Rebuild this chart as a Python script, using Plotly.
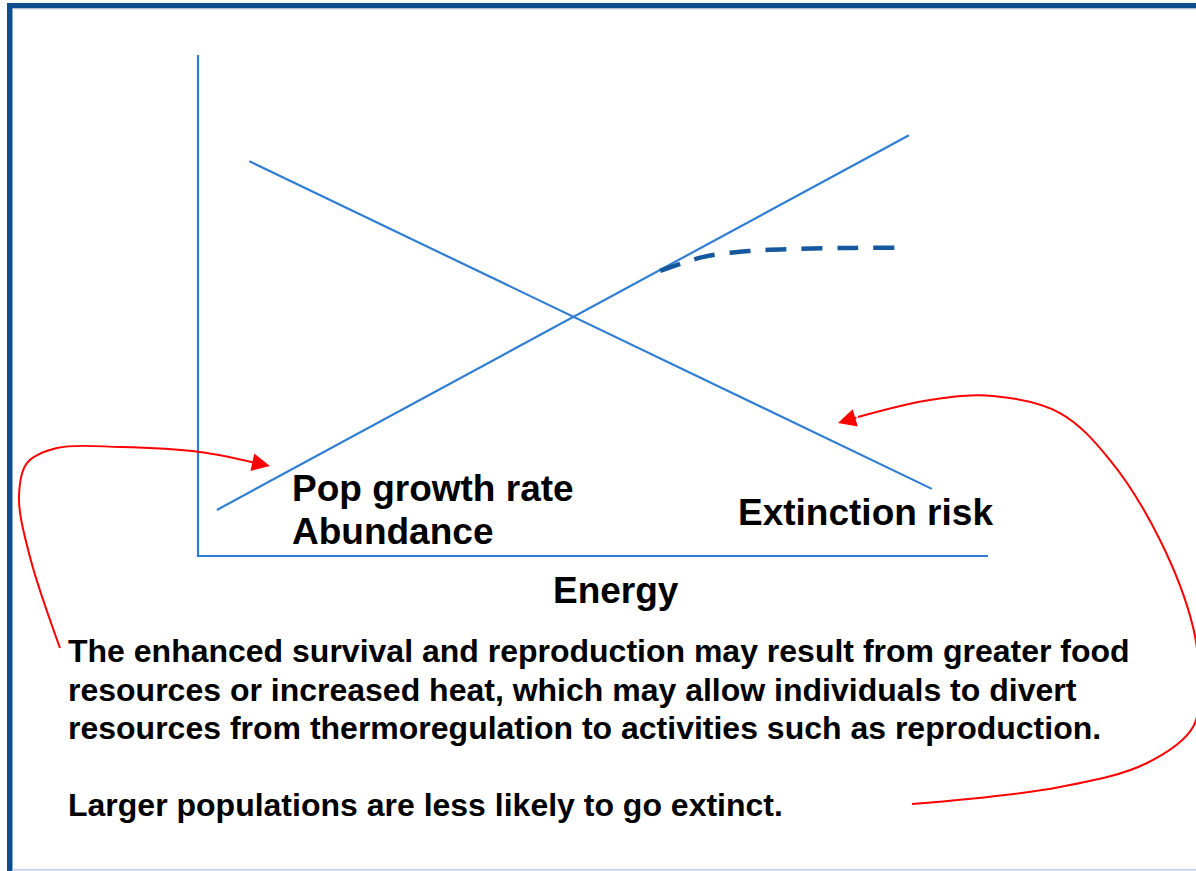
import plotly.graph_objects as go

# ---- data (conceptual diagram, Energy on x, response on y; axis 0..10) ----
axis_x = [0, 0, 10]
axis_y = [10, 0, 0]

growth_x = [0.24, 9.0]          # Pop growth rate / Abundance (rising)
growth_y = [0.92, 8.40]

extinct_x = [0.65, 9.29]        # Extinction risk (falling)
extinct_y = [7.88, 1.34]

sat_x = [5.85, 6.4, 7.0, 7.6, 8.3, 9.0]   # saturating (dashed) abundance
sat_y = [5.69, 5.97, 6.09, 6.13, 6.15, 6.15]

left_arrow_x = [-1.747, -2.127, -2.266, -2.165, -1.785, -0.987, 0.025, 0.734]
left_arrow_y = [-1.836, -0.020, 1.178, 1.856, 2.156, 2.176, 2.076, 1.856]

right_arrow_x = [8.354, 9.266, 10.063, 10.911, 11.544, 12.177, 12.595, 12.671, 12.595,
                 12.013, 10.911, 9.038]
right_arrow_y = [2.774, 3.114, 3.194, 2.854, 1.916, 0.319, -1.417, -2.475, -3.413,
                 -4.132, -4.611, -4.950]

label_growth = ["Pop growth rate", "Abundance"]
label_extinct = "Extinction risk"
label_x = "Energy"
body_lines = [
    "The enhanced survival and reproduction may result from greater food",
    "resources or increased heat, which may allow individuals to divert",
    "resources from thermoregulation to activities such as reproduction.",
    "Larger populations are less likely to go extinct.",
]

W, H = 1196, 871
X0, XS = 198, 79.0     # pixel origin / pixels per unit
Y0, YS = 556, 50.1
xr = [-X0 / XS, (W - X0) / XS]
yr = [(Y0 - H) / YS, Y0 / YS]

BLUE = "#2F7ED3"
DARK = "#15589C"
RED = "#FF0000"
FONT = "Liberation Sans, Arial, sans-serif"

fig = go.Figure()
fig.add_trace(go.Scatter(x=axis_x, y=axis_y, mode="lines", line=dict(color=BLUE, width=2.2)))
fig.add_trace(go.Scatter(x=growth_x, y=growth_y, mode="lines", line=dict(color=BLUE, width=2.2)))
fig.add_trace(go.Scatter(x=extinct_x, y=extinct_y, mode="lines", line=dict(color=BLUE, width=2.2)))
fig.add_trace(go.Scatter(x=sat_x, y=sat_y, mode="lines",
                         line=dict(color=DARK, width=4.5, dash="21px,15px", shape="spline")))
fig.add_trace(go.Scatter(x=left_arrow_x, y=left_arrow_y, mode="lines",
                         line=dict(color=RED, width=2, shape="spline", smoothing=1.0)))
fig.add_trace(go.Scatter(x=right_arrow_x, y=right_arrow_y, mode="lines",
                         line=dict(color=RED, width=2, shape="spline", smoothing=1.0)))

annotations = []
# arrowheads
annotations.append(dict(x=0.911, y=1.796, ax=left_arrow_x[-1], ay=left_arrow_y[-1],
                        xref="x", yref="y", axref="x", ayref="y",
                        text="", showarrow=True, arrowhead=2, arrowsize=1.8, arrowwidth=2, arrowcolor=RED))
annotations.append(dict(x=8.101, y=2.655, ax=right_arrow_x[0], ay=right_arrow_y[0],
                        xref="x", yref="y", axref="x", ayref="y",
                        text="", showarrow=True, arrowhead=2, arrowsize=1.8, arrowwidth=2, arrowcolor=RED))

big = dict(family=FONT, size=37, color="#000000")
annotations.append(dict(x=(290 - X0) / XS, y=(Y0 - 488) / YS, text="<b>" + label_growth[0] + "</b>",
                        xanchor="left", yanchor="middle", showarrow=False, font=big))
annotations.append(dict(x=(290 - X0) / XS, y=(Y0 - 531) / YS, text="<b>" + label_growth[1] + "</b>",
                        xanchor="left", yanchor="middle", showarrow=False, font=big))
annotations.append(dict(x=(736 - X0) / XS, y=(Y0 - 512) / YS, text="<b>" + label_extinct + "</b>",
                        xanchor="left", yanchor="middle", showarrow=False, font=big))
annotations.append(dict(x=(616 - X0) / XS, y=(Y0 - 590) / YS, text="<b>" + label_x + "</b>",
                        xanchor="center", yanchor="middle", showarrow=False, font=big))

body_y = [651, 690, 728, 805]
for t, py in zip(body_lines, body_y):
    annotations.append(dict(x=(66 - X0) / XS, y=(Y0 - py) / YS, text="<b>" + t + "</b>",
                            xanchor="left", yanchor="middle", showarrow=False,
                            font=dict(family=FONT, size=32, color="#000000")))

shapes = [
    dict(type="rect", xref="paper", yref="paper", x0=7 / W, x1=1.01, y0=1 - 8.5 / H, y1=1 - 3 / H,
         fillcolor="#0E4E8F", line=dict(width=0), layer="above"),
    dict(type="rect", xref="paper", yref="paper", x0=7 / W, x1=12.5 / W, y0=0, y1=1 - 3 / H,
         fillcolor="#0E4E8F", line=dict(width=0), layer="above"),
    dict(type="line", xref="paper", yref="paper", x0=12.5 / W, x1=1, y0=1.2 / H, y1=1.2 / H,
         line=dict(color="#C6D6E6", width=2), layer="above"),
    dict(type="line", xref="paper", yref="paper", x0=12.5 / W, x1=1, y0=1 - 9 / H, y1=1 - 9 / H,
         line=dict(color="#D8D8D8", width=1), layer="above"),
]

fig.update_layout(
    width=W, height=H, margin=dict(l=0, r=0, t=0, b=0),
    paper_bgcolor="white", plot_bgcolor="white", showlegend=False,
    xaxis=dict(range=xr, visible=False, fixedrange=True),
    yaxis=dict(range=yr, visible=False, fixedrange=True),
    annotations=annotations, shapes=shapes,
)
fig.write_html("out.html", config={"displayModeBar": False},
               post_script="document.body.style.margin='0';document.body.style.overflow='hidden';")
